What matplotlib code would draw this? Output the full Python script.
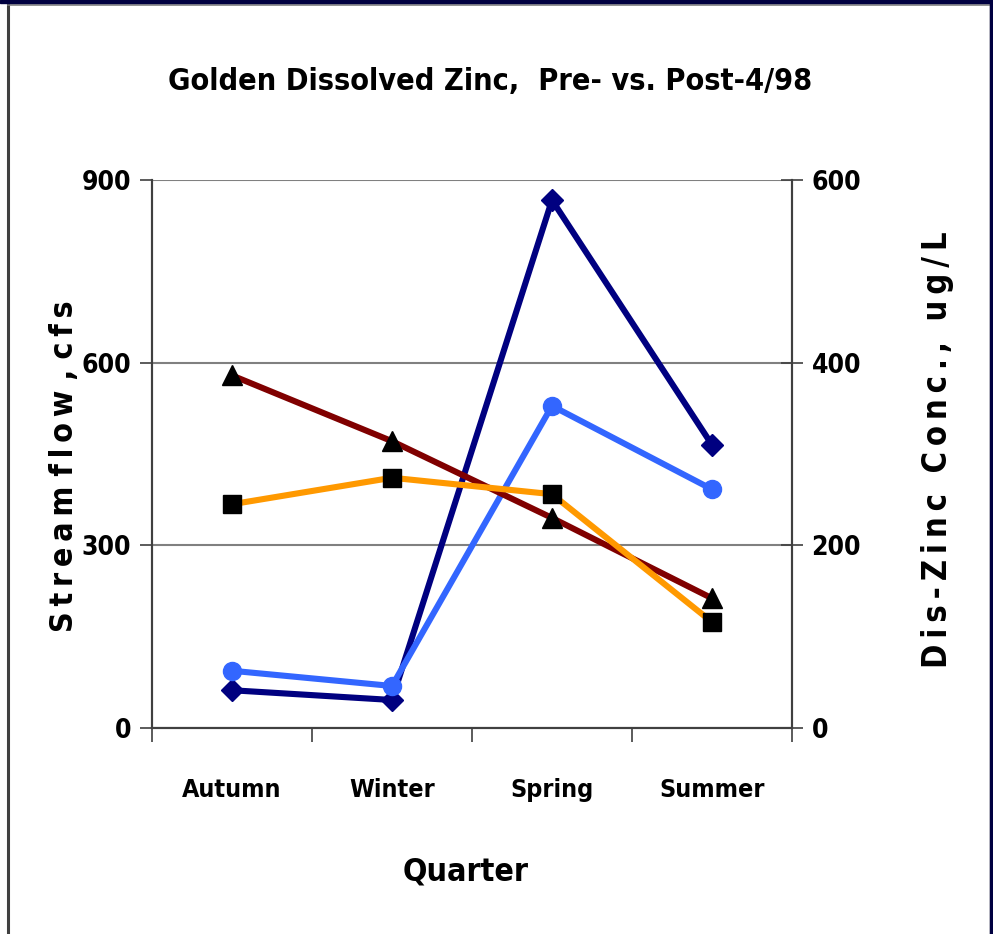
import matplotlib
matplotlib.use('Agg')
import matplotlib.pyplot as plt
from matplotlib.patches import Rectangle
from matplotlib.lines import Line2D

# quarterly values
quarters = ['Autumn', 'Winter', 'Spring', 'Summer']
flow_pre = [62, 46, 867, 465]       # cfs, navy diamonds
flow_post = [94, 69, 529, 392]      # cfs, blue circles
zinc_pre = [386, 314, 230, 142]     # ug/L, triangles
zinc_post = [245, 274, 256, 116]    # ug/L, squares

plt.rcParams['font.family'] = ['DejaVu Sans']
plt.rcParams['font.stretch'] = 'condensed'
plt.rcParams['font.weight'] = 'bold'
plt.rcParams['axes.labelweight'] = 'bold'


def spaced(s, gap=' '):
    # letter-spaced axis titles: thin space between letters, wider gap between words
    return gap.join('\u2009'.join(w) for w in s.split(' '))


fig = plt.figure(figsize=(9.93, 9.34), dpi=100)
ax = fig.add_axes([152/993, 1 - 728/934, 640/993, 548/934])
ax2 = ax.twinx()

x = list(range(len(quarters)))

ax.plot(x, flow_pre, '-', color='#000080', lw=4.4, marker='D', ms=11,
        mfc='#000080', mec='#000080', zorder=3)
ax.plot(x, flow_post, '-', color='#3366FF', lw=4.4, marker='o', ms=13,
        mfc='#3366FF', mec='#3366FF', zorder=3)
ax2.plot(x, zinc_pre, '-', color='#800000', lw=4.4, marker='^', ms=15,
         mfc='black', mec='black', zorder=3)
ax2.plot(x, zinc_post, '-', color='#FF9900', lw=4.4, marker='s', ms=13,
         mfc='black', mec='black', zorder=3)

ax.set_xlim(-0.5, 3.5)
ax.set_ylim(0, 900)
ax2.set_ylim(0, 600)
ax.set_yticks([0, 300, 600, 900])
ax2.set_yticks([0, 200, 400, 600])
ax.set_xticks([-0.5, 0.5, 1.5, 2.5, 3.5])
ax.set_xticklabels([])
ax.set_xticks(x, minor=True)
ax.set_xticklabels(quarters, minor=True, fontsize=18)
ax.tick_params(axis='x', which='minor', length=0, pad=36)
ax.tick_params(axis='x', which='major', direction='out', length=10, width=1.2, color='#404040')
ax.tick_params(axis='y', direction='out', length=9, width=1.2, color='#404040',
               labelsize=19, pad=6)
ax2.tick_params(axis='y', direction='inout', length=16, width=1.2, color='#404040',
                labelsize=19, pad=6)

ax.yaxis.grid(True, color='#808080', lw=1.5)
ax.set_axisbelow(True)
for a in (ax, ax2):
    a.spines['top'].set_visible(False)
    for s in ('left', 'right', 'bottom'):
        a.spines[s].set_color('#404040')
        a.spines[s].set_linewidth(1.5)
ax.patch.set_visible(False)

ax.set_ylabel(spaced('Stream flow , cfs'), fontsize=23)
ax.yaxis.set_label_coords(-0.136, 0.478)
ax2.set_ylabel(spaced('Dis-Zinc Conc., ug/L', '  '), fontsize=23.5, rotation=90)
ax2.yaxis.set_label_coords(1.227, 0.507)
ax.set_xlabel('Quarter', fontsize=23)
ax.xaxis.set_label_coords(0.49, -0.263)
ax.xaxis.label.set_va('center')
ax.yaxis.label.set_va('center')
ax2.yaxis.label.set_va('center')

fig.text(490/993, 1 - 82/934, 'Golden Dissolved Zinc,  Pre- vs. Post-4/98',
         ha='center', va='center', fontsize=22)

# frame around the slide
fig.patches.append(Rectangle((0, 1 - 3/934), 1, 3/934, transform=fig.transFigure,
                             color='#000040', zorder=10))
fig.patches.append(Rectangle((990/993, 0), 3/993, 1, transform=fig.transFigure,
                             color='#000040', zorder=10))
fig.lines.append(Line2D([8/993, 8/993], [0, 1 - 3/934], transform=fig.transFigure,
                        color='#404040', lw=2.2))
fig.lines.append(Line2D([8/993, 990/993], [1 - 4.5/934, 1 - 4.5/934],
                        transform=fig.transFigure, color='#808080', lw=1.2))
fig.lines.append(Line2D([989.5/993, 989.5/993], [0, 1], transform=fig.transFigure,
                        color='#606060', lw=1.0))

fig.savefig('out.png', dpi=100)
